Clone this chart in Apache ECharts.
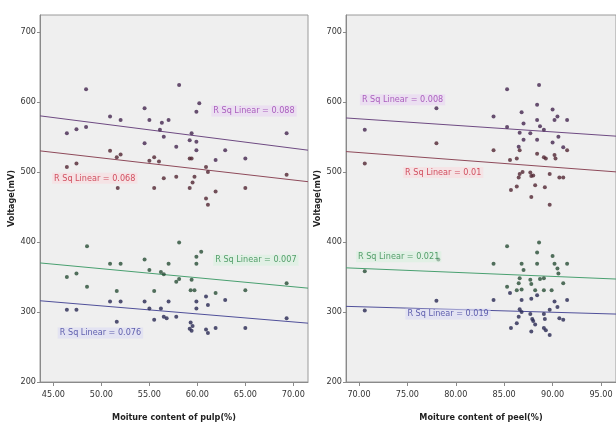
<!DOCTYPE html>
<html>
<head>
<meta charset="utf-8">
<script src="https://cdn.jsdelivr.net/npm/echarts@6/dist/echarts.min.js"></script>
<style>
    html, body { margin: 0; padding: 0; background: #fff; }
    #main { width: 616px; height: 428px; }
</style>
</head>
<body>
<div id="main"></div>
<script>
// ---- data ----
var pulpXTicks = [45, 50, 55, 60, 65, 70];
var peelXTicks = [70, 75, 80, 85, 90, 95];
var yTicks = [200, 300, 400, 500, 600, 700];

// pulp panel, [moisture %, voltage mV]
var pulpPurple = [[46.4,555],[47.4,561],[48.4,618],[48.4,564],[50.9,579],[52.0,574],[54.5,591],[55.0,574],[54.5,541],[56.1,560],[56.3,570],[56.5,550],[57.0,574],[58.1,624],[59.9,586],[60.2,598],[59.4,555],[59.2,545],[59.9,543],[59.9,531],[57.8,536],[62.9,531],[65.0,519],[61.9,517],[69.3,555]];
var pulpRed = [[46.4,507],[47.4,512],[50.9,530],[51.6,521],[52.0,525],[55.0,516],[55.5,521],[56.0,515],[56.5,491],[51.7,477],[55.5,477],[59.2,519],[59.4,519],[60.9,507],[61.1,500],[59.7,493],[57.8,493],[69.3,496],[59.5,485],[59.2,477],[61.9,472],[65.0,477],[60.9,462],[61.1,453]];
var pulpGreen = [[46.4,350],[47.4,355],[48.5,394],[48.5,336],[50.9,369],[52.0,369],[51.6,330],[54.5,375],[55.0,360],[55.5,330],[56.2,357],[56.5,354],[57.0,369],[58.1,399],[57.8,343],[58.1,347],[59.4,346],[59.3,331],[59.7,331],[60.4,386],[59.9,379],[59.9,369],[61.9,327],[65.0,331],[69.3,341]];
var pulpBlue = [[46.4,303],[47.4,303],[50.9,315],[52.0,315],[51.6,286],[54.5,315],[55.0,305],[55.5,289],[56.2,305],[56.5,293],[56.8,291],[57.0,315],[57.8,293],[59.2,276],[59.3,285],[59.4,273],[59.5,280],[59.9,315],[59.9,305],[60.9,322],[61.1,310],[60.9,275],[61.1,270],[61.9,277],[62.9,317],[65.0,277],[69.3,291]];

// fitted lines, start/end values
var pulpFitPurple = [[43.6,580],[71.53,531]];
var pulpFitRed = [[43.6,530],[71.53,486]];
var pulpFitGreen = [[43.6,370],[71.53,334]];
var pulpFitBlue = [[43.6,316],[71.53,284]];

// peel panel
var peelPurple = [[70.6,560],[78.0,591],[83.9,579],[85.3,618],[85.3,564],[86.8,585],[87.0,569],[86.6,556],[87.7,555],[88.4,596],[88.4,574],[88.6,624],[88.7,565],[89.1,560],[90.0,589],[90.2,574],[90.5,579],[90.6,550],[91.5,574],[87.0,546],[88.4,546],[90.0,542],[86.5,536],[91.1,535]];
var peelRed = [[70.6,512],[78.0,541],[83.9,531],[86.6,531],[91.5,531],[88.4,526],[89.1,521],[89.3,519],[90.2,524],[90.3,519],[85.6,517],[86.3,519],[86.9,500],[86.6,497],[87.7,499],[88.0,495],[89.7,497],[90.7,492],[91.1,492],[86.5,492],[87.8,494],[88.2,481],[86.3,479],[85.7,474],[89.2,478],[87.8,464],[89.7,453]];
var peelGreen = [[70.6,358],[78.2,375],[83.9,369],[85.3,394],[86.8,369],[88.4,385],[88.4,369],[88.6,399],[90.0,380],[90.2,369],[90.5,362],[90.6,355],[91.5,369],[87.0,360],[86.6,348],[86.5,341],[86.8,332],[86.3,331],[87.7,346],[87.8,340],[88.7,347],[89.1,348],[85.3,336],[88.2,331],[89.1,331],[89.9,331],[91.1,341]];
var peelBlue = [[70.6,302],[78.0,316],[83.9,317],[85.6,327],[88.4,324],[86.8,317],[87.8,319],[91.5,317],[90.2,315],[90.5,307],[86.6,304],[86.8,300],[86.5,293],[87.7,297],[87.9,290],[88.0,287],[89.1,297],[89.2,290],[89.7,303],[90.7,291],[91.1,289],[86.3,284],[85.7,277],[88.2,282],[89.1,277],[89.3,274],[87.8,272],[89.7,267]];

var peelFitPurple = [[68.66,577],[96.55,551]];
var peelFitRed = [[68.66,529],[96.55,500]];
var peelFitGreen = [[68.66,363],[96.55,347]];
var peelFitBlue = [[68.66,308],[96.55,297]];

// R sq annotations: [x, y, text]
var pulpNotes = [[65.9,587,'R Sq Linear = 0.088'],[49.3,491,'R Sq Linear = 0.068'],[66.1,374,'R Sq Linear = 0.007'],[49.9,270,'R Sq Linear = 0.076']];
var peelNotes = [[74.5,603,'R Sq Linear = 0.008'],[78.7,499,'R Sq Linear = 0.01'],[74.1,379,'R Sq Linear = 0.021'],[79.2,297,'R Sq Linear = 0.019']];

// ---- styles ----
var font = '"Liberation Sans Narrow", "DejaVu Sans Condensed", sans-serif';
var dotColors = ['#43254f', '#512632', '#284d36', '#282852'];
var lineColors = ['#6e4a82', '#8e4a5a', '#49a070', '#50509a'];
var noteColors = ['#9a3cb0', '#c8283c', '#2e8a4a', '#3c3c9c'];
var noteBg = ['rgba(232,210,242,0.7)', 'rgba(250,218,222,0.7)', 'rgba(214,240,222,0.7)', 'rgba(218,218,245,0.7)'];

function xAxisOf(idx, min, max, ticks, name) {
    return {
        gridIndex: idx, type: 'value', min: min, max: max,
        name: name, nameLocation: 'middle', nameGap: 31,
        nameTextStyle: { fontFamily: font, fontSize: 9, fontWeight: 'bold', color: '#222' },
        axisLine: { show: true, onZero: false, lineStyle: { color: '#8a8a8a' } },
        axisTick: { show: true, length: 4, customValues: ticks, lineStyle: { color: '#8a8a8a' } },
        axisLabel: { customValues: ticks, formatter: function (v) { return v.toFixed(2); },
            fontFamily: font, fontSize: 9, color: '#333', margin: 8 },
        splitLine: { show: false }
    };
}
function yAxisOf(idx) {
    return {
        gridIndex: idx, type: 'value', min: 200, max: 724,
        name: 'Voltage(mV)', nameLocation: 'middle', nameGap: 22,
        nameTextStyle: { fontFamily: font, fontSize: 9, fontWeight: 'bold', color: '#222' },
        axisLine: { show: true, onZero: false, lineStyle: { color: '#8a8a8a' } },
        axisTick: { show: true, length: 3, customValues: yTicks, lineStyle: { color: '#8a8a8a' } },
        axisLabel: { customValues: yTicks, fontFamily: font, fontSize: 9, color: '#333', margin: 4 },
        splitLine: { show: false }
    };
}

var series = [];
function addPanel(idx, groups, fits, notes) {
    groups.forEach(function (g, i) {
        series.push({
            type: 'scatter', xAxisIndex: idx, yAxisIndex: idx, data: g,
            symbol: 'circle', symbolSize: 4, itemStyle: { color: dotColors[i] }, z: 3
        });
    });
    fits.forEach(function (f, i) {
        series.push({
            type: 'line', xAxisIndex: idx, yAxisIndex: idx, data: f,
            symbol: 'none', lineStyle: { color: lineColors[i], width: 1 }, z: 2
        });
    });
    notes.forEach(function (n, i) {
        series.push({
            type: 'scatter', xAxisIndex: idx, yAxisIndex: idx, data: [[n[0], n[1]]],
            symbolSize: 1, itemStyle: { color: 'rgba(0,0,0,0)' }, silent: true, z: 4,
            label: {
                show: true, position: 'inside', formatter: n[2],
                fontFamily: font, fontSize: 9, color: noteColors[i],
                backgroundColor: noteBg[i], padding: [1, 2]
            }
        });
    });
}
addPanel(0, [pulpPurple, pulpRed, pulpGreen, pulpBlue],
    [pulpFitPurple, pulpFitRed, pulpFitGreen, pulpFitBlue], pulpNotes);
addPanel(1, [peelPurple, peelRed, peelGreen, peelBlue],
    [peelFitPurple, peelFitRed, peelFitGreen, peelFitBlue], peelNotes);

var chart = echarts.init(document.getElementById('main'));
chart.setOption({
    animation: false,
    backgroundColor: '#ffffff',
    grid: [
        { left: 40, top: 15, width: 268, height: 367, show: true,
          backgroundColor: '#efefef', borderColor: '#9a9a9a', borderWidth: 1 },
        { left: 346, top: 15, width: 270, height: 367, show: true,
          backgroundColor: '#efefef', borderColor: '#9a9a9a', borderWidth: 1 }
    ],
    xAxis: [
        xAxisOf(0, 43.6, 71.53, pulpXTicks, 'Moiture content of pulp(%)'),
        xAxisOf(1, 68.66, 96.55, peelXTicks, 'Moiture content of peel(%)')
    ],
    yAxis: [yAxisOf(0), yAxisOf(1)],
    series: series
});
</script>
</body>
</html>
